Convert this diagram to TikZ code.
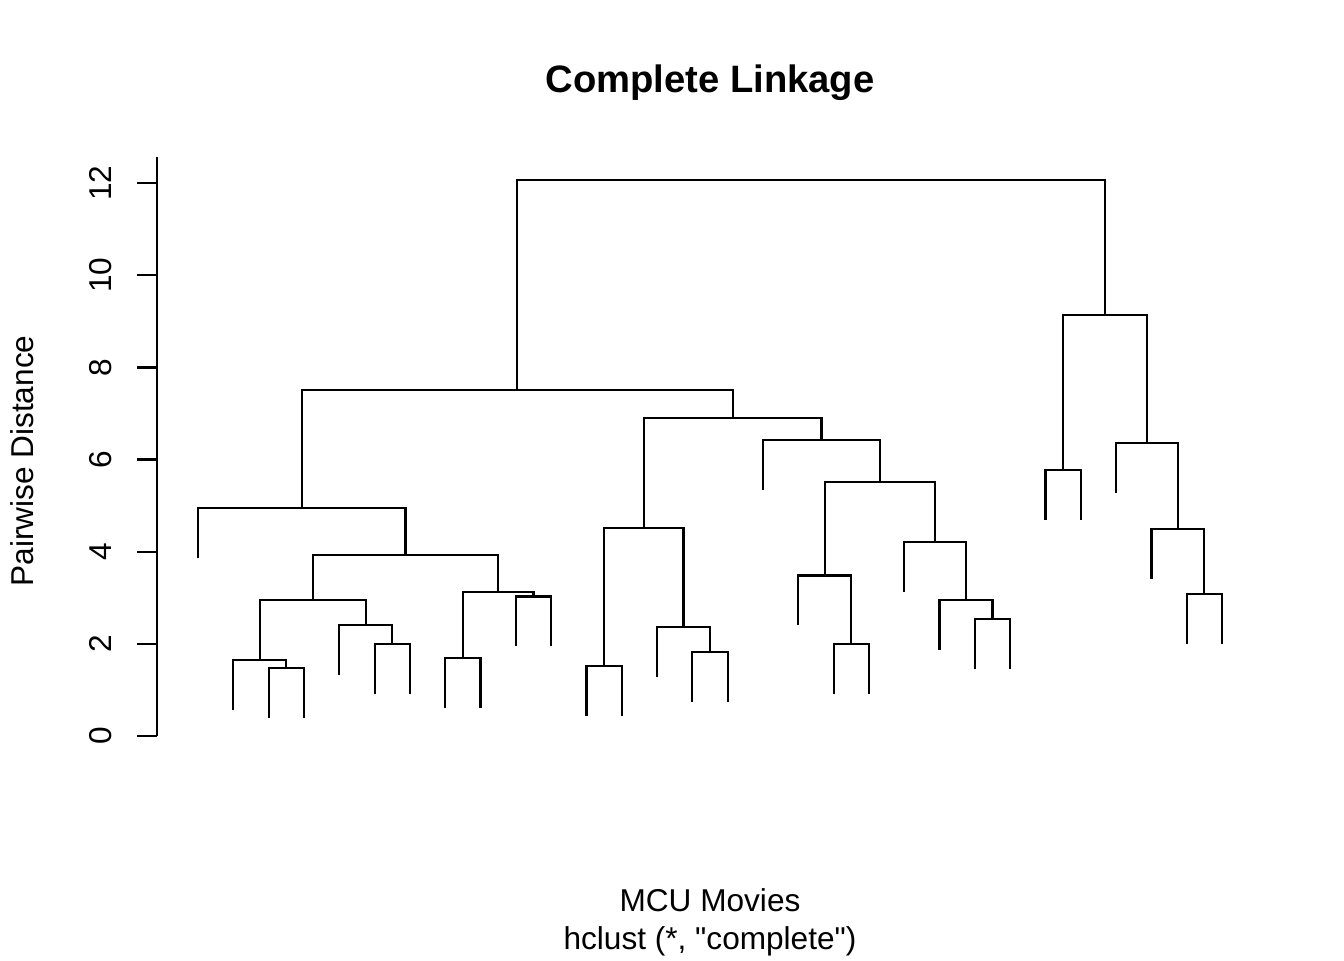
\documentclass[tikz,border=0pt]{standalone}
\usepackage{fontspec}
\setmainfont{Liberation Sans}[Ligatures=TeXOff]
\begin{document}
\begin{tikzpicture}[x=0.5pt,y=-0.5pt,
  link/.style={draw=black, line width=1.1pt, line cap=butt, line join=miter},
  axisline/.style={draw=black, line width=1.1pt},
  lbl/.style={font=\fontsize{15.8}{19}\selectfont, inner sep=0pt, outer sep=0pt},
  ttl/.style={font=\fontsize{19.1}{23}\selectfont\bfseries, inner sep=0pt, outer sep=0pt}]
\useasboundingbox (0,0) rectangle (1344,960);

% leaves
\coordinate (L1) at (198.0,557.5);
\coordinate (L2) at (233.3,709.5);
\coordinate (L3) at (268.6,717.5);
\coordinate (L4) at (303.9,717.5);
\coordinate (L5) at (339.2,674.5);
\coordinate (L6) at (374.6,693.5);
\coordinate (L7) at (409.9,693.5);
\coordinate (L8) at (445.2,707.5);
\coordinate (L9) at (480.5,707.5);
\coordinate (L10) at (515.8,646.0);
\coordinate (L11) at (551.1,646.0);
\coordinate (L12) at (586.4,715.5);
\coordinate (L13) at (621.7,715.5);
\coordinate (L14) at (657.0,676.5);
\coordinate (L15) at (692.3,701.5);
\coordinate (L16) at (727.7,701.5);
\coordinate (L17) at (763.0,489.5);
\coordinate (L18) at (798.3,625.0);
\coordinate (L19) at (833.6,693.5);
\coordinate (L20) at (868.9,693.5);
\coordinate (L21) at (904.2,591.5);
\coordinate (L22) at (939.5,649.5);
\coordinate (L23) at (974.8,668.5);
\coordinate (L24) at (1010.1,668.5);
\coordinate (L25) at (1045.4,519.5);
\coordinate (L26) at (1080.8,519.5);
\coordinate (L27) at (1116.1,492.5);
\coordinate (L28) at (1151.4,578.5);
\coordinate (L29) at (1186.7,643.5);
\coordinate (L30) at (1222.0,643.5);

% merges
\coordinate (m34) at (286.3,668);
\coordinate (m234) at (259.8,660);
\coordinate (m67) at (392.2,644);
\coordinate (m567) at (365.7,625);
\coordinate (mA) at (312.75,600);
\coordinate (m89) at (462.8,658);
\coordinate (m1011) at (533.4,596.5);
\coordinate (mB) at (498.1,592);
\coordinate (mC) at (405.4,555);
\coordinate (mD) at (301.7,508);
\coordinate (m1213) at (604.1,666);
\coordinate (m1516) at (710.0,652);
\coordinate (m1416) at (683.5,627);
\coordinate (mE) at (643.8,528);
\coordinate (m1920) at (851.2,644);
\coordinate (m1820) at (824.7,575.5);
\coordinate (m2324) at (992.5,619);
\coordinate (m2224) at (966.0,600);
\coordinate (m2124) at (935.1,542);
\coordinate (mF) at (879.9,482);
\coordinate (mG) at (821.4,440);
\coordinate (mH) at (732.6,418);
\coordinate (mI) at (517.2,390);
\coordinate (m2526) at (1063.1,470);
\coordinate (m2930) at (1204.3,594);
\coordinate (m2830) at (1177.9,529);
\coordinate (m2730) at (1147.0,443);
\coordinate (mJ) at (1105.0,315);
\coordinate (root) at (811.1,180);

% links
\draw[link] (L3) |- (m34) -| (L4);
\draw[link] (L2) |- (m234) -| (m34);
\draw[link] (L6) |- (m67) -| (L7);
\draw[link] (L5) |- (m567) -| (m67);
\draw[link] (m234) |- (mA) -| (m567);
\draw[link] (L8) |- (m89) -| (L9);
\draw[link] (L10) |- (m1011) -| (L11);
\draw[link] (m89) |- (mB) -| (m1011);
\draw[link] (mA) |- (mC) -| (mB);
\draw[link] (L1) |- (mD) -| (mC);
\draw[link] (L12) |- (m1213) -| (L13);
\draw[link] (L15) |- (m1516) -| (L16);
\draw[link] (L14) |- (m1416) -| (m1516);
\draw[link] (m1213) |- (mE) -| (m1416);
\draw[link] (L19) |- (m1920) -| (L20);
\draw[link] (L18) |- (m1820) -| (m1920);
\draw[link] (L23) |- (m2324) -| (L24);
\draw[link] (L22) |- (m2224) -| (m2324);
\draw[link] (L21) |- (m2124) -| (m2224);
\draw[link] (m1820) |- (mF) -| (m2124);
\draw[link] (L17) |- (mG) -| (mF);
\draw[link] (mE) |- (mH) -| (mG);
\draw[link] (mD) |- (mI) -| (mH);
\draw[link] (L25) |- (m2526) -| (L26);
\draw[link] (L29) |- (m2930) -| (L30);
\draw[link] (L28) |- (m2830) -| (m2930);
\draw[link] (L27) |- (m2730) -| (m2830);
\draw[link] (m2526) |- (mJ) -| (m2730);
\draw[link] (mI) |- (root) -| (mJ);

% axis
\coordinate (axbot) at (157,736);
\coordinate (axtop) at (157,157);
\draw[axisline] (axbot) -- (axtop);
\foreach \v/\yy in {0/736,2/643.8,4/551.7,6/459.5,8/367.4,10/275.2,12/183} {
  \draw[axisline] (157,\yy) -- (137,\yy);
  \node[lbl, rotate=90, anchor=base] (tick\v) at (111,\yy) {\v};
}

% texts
\node[ttl, anchor=base] (title) at (710,92) {Complete Linkage};
\node[lbl, anchor=base] (xlab) at (710,911) {MCU Movies};
\node[lbl, anchor=base] (sub) at (710,949) {hclust (*, "complete")};
\node[lbl, rotate=90, anchor=base] (ylab) at (33,461) {Pairwise Distance};
\end{tikzpicture}
\end{document}
